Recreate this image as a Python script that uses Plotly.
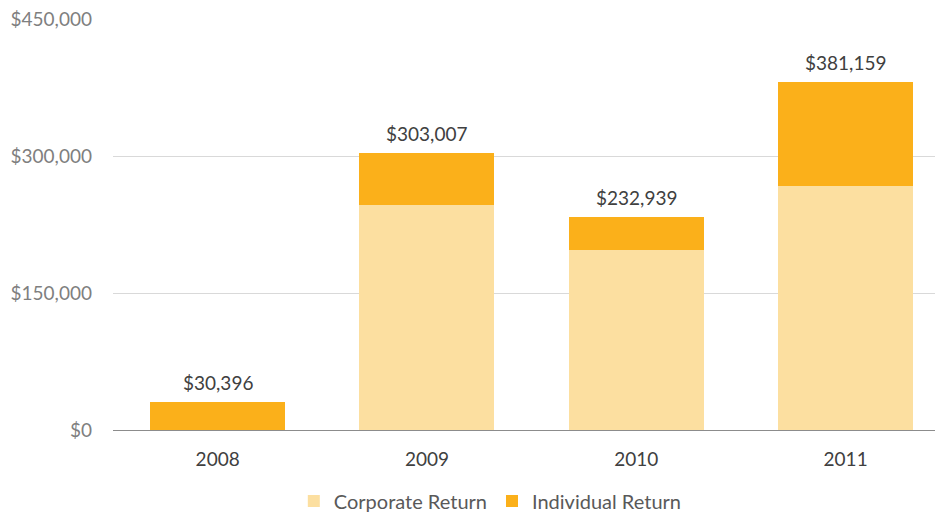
import plotly.graph_objects as go

years = ["2008", "2009", "2010", "2011"]
corporate = [0, 246000, 197000, 267000]
totals = [30396, 303007, 232939, 381159]
individual = [t - c for t, c in zip(totals, corporate)]
tick_vals = [0, 150000, 300000, 450000]
tick_text = ["$0", "$150,000", "$300,000", "$450,000"]

font_family = "Lato, Open Sans, sans-serif"

fig = go.Figure()
fig.add_trace(go.Bar(x=years, y=corporate, name="Corporate Return",
                     marker=dict(color="#FCDFA0", line=dict(width=0)), width=0.645))
fig.add_trace(go.Bar(x=years, y=individual, name="Individual Return",
                     marker=dict(color="#FBB01A", line=dict(width=0)), width=0.645))

# total labels above each stacked column
for i, tot in enumerate(totals):
    fig.add_annotation(x=i, y=tot, xref="x", yref="y", text=f"${tot:,}",
                       showarrow=False, yanchor="bottom", yshift=6,
                       font=dict(size=19, color="#404040", family=font_family))

fig.update_layout(
    barmode="stack",
    width=937, height=512,
    margin=dict(l=113, r=2, t=19, b=82, autoexpand=False),
    paper_bgcolor="white", plot_bgcolor="white",
    font=dict(family=font_family),
    legend=dict(orientation="h", x=0.459, xanchor="center", y=-0.173, yanchor="middle",
                font=dict(size=20, color="#595959"), traceorder="normal"),
    xaxis=dict(type="category", range=[-0.5, 3.427], showline=True,
               linecolor="#8c8c8c", linewidth=1,
               tickfont=dict(size=19, color="#404040"), ticks="", ticklabelstandoff=12),
    yaxis=dict(range=[0, 450000], tickvals=tick_vals, ticktext=tick_text,
               showgrid=True, gridcolor="#d9d9d9", gridwidth=1, zeroline=False,
               tickfont=dict(size=19, color="#7f7f7f"), ticks="", ticklabelstandoff=20),
)

fig.write_html("out.html")
